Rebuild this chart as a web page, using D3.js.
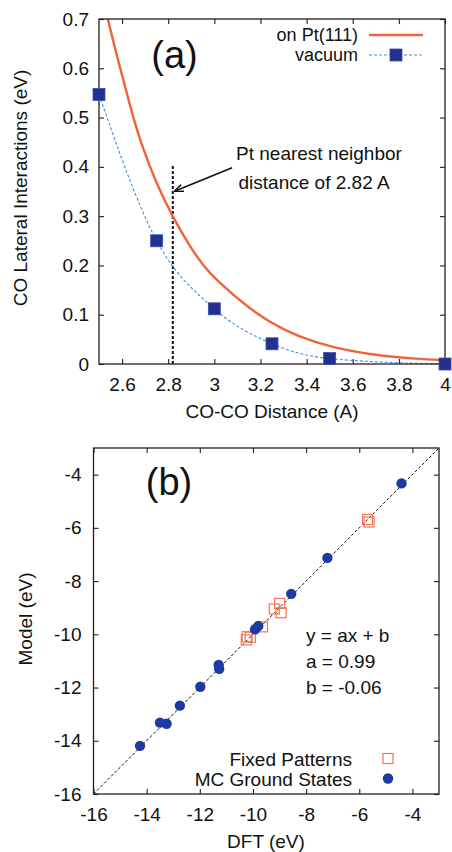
<!DOCTYPE html>
<html><head><meta charset="utf-8">
<script src="https://cdn.jsdelivr.net/npm/d3@7"></script>
<style>
html,body{margin:0;padding:0;background:#fff;}
svg text{font-family:"Liberation Sans",Arial,Helvetica,sans-serif;fill:#111;}
</style></head>
<body><svg id="c" width="452" height="852"></svg>
<script>
// ---------- Panel (a) data ----------
const distA = [2.5, 2.75, 3.0, 3.25, 3.5, 4.0];
const vacuumA = [0.547, 0.25, 0.112, 0.041, 0.011, 0.0];
const ptDist = [2.5, 2.533, 2.59, 2.634, 2.678, 2.75, 2.82, 2.894, 2.952, 3.0, 3.155, 3.3, 3.444, 3.588, 3.732, 3.877, 4.0];
const ptVal  = [0.78, 0.708, 0.603, 0.525, 0.452, 0.364, 0.298, 0.238, 0.2, 0.174, 0.11, 0.068, 0.042, 0.026, 0.016, 0.0105, 0.0075];
const xTicksA = [2.6, 2.8, 3, 3.2, 3.4, 3.6, 3.8, 4];
const yTicksA = [0, 0.1, 0.2, 0.3, 0.4, 0.5, 0.6, 0.7];
const ptNN = 2.82;
const legendA = ["on Pt(111)", "vacuum"];

// ---------- Panel (b) data ----------
const fixedDFT   = [-5.69, -5.63, -9.2, -9.0, -8.94, -9.64, -10.22, -10.25, -10.1];
const fixedModel = [-5.69, -5.78, -9.05, -8.84, -9.19, -9.72, -10.09, -10.21, -10.11];
const mcDFT   = [-4.41, -7.2, -8.56, -9.92, -9.8, -11.29, -11.27, -11.98, -12.75, -13.5, -13.25, -14.25];
const mcModel = [-4.33, -7.13, -8.48, -9.81, -9.69, -11.15, -11.3, -11.97, -12.68, -13.32, -13.36, -14.19];
const ticksB = [-16, -14, -12, -10, -8, -6, -4];
const fitLines = ["y = ax + b", "a = 0.99", "b = -0.06"];
const legendB = ["Fixed Patterns", "MC Ground States"];

const svg = d3.select("#c");
const FS = 19;
const frameCol = "#2a1c1c";
const orange = "#f0643c", lightBlue = "#3f8fe6", navy = "#22308e", dotBlue = "#1d3aa0", sqOrange = "#f27455";
const fmt = d => String(d);

svg.append("defs").append("marker").attr("id","arr").attr("viewBox","0 0 10 10")
  .attr("refX",9).attr("refY",5).attr("markerWidth",9).attr("markerHeight",9)
  .attr("markerUnits","userSpaceOnUse").attr("orient","auto")
  .append("path").attr("d","M0,1 L10,5 L0,9").attr("fill","none").attr("stroke","#111").attr("stroke-width",1.6);

function frame(g, x, y, xt, yt, padX, padY){
  const [x0,x1] = x.range(), [y0,y1] = y.range();
  const ax = g.append("g").attr("transform",`translate(0,${y0})`)
    .call(d3.axisBottom(x).tickValues(xt).tickFormat(fmt).tickSize(-5).tickPadding(padX));
  const ay = g.append("g").attr("transform",`translate(${x0},0)`)
    .call(d3.axisLeft(y).tickValues(yt).tickFormat(fmt).tickSize(-5).tickPadding(padY));
  const at = g.append("g").attr("transform",`translate(0,${y1})`)
    .call(d3.axisTop(x).tickValues(xt).tickFormat("").tickSize(-5));
  const ar = g.append("g").attr("transform",`translate(${x1},0)`)
    .call(d3.axisRight(y).tickValues(yt).tickFormat("").tickSize(-5));
  [ax,ay,at,ar].forEach(a=>{
    a.select(".domain").remove();
    a.selectAll("line").attr("stroke",frameCol).attr("stroke-width",1.1);
    a.selectAll("text").attr("font-size",FS).attr("fill","#111").style("font-family","Liberation Sans, Arial, sans-serif");
  });
  g.append("rect").attr("x",x0).attr("y",y1).attr("width",x1-x0).attr("height",y0-y1)
    .attr("fill","none").attr("stroke",frameCol).attr("stroke-width",1.3);
}

// ================= Panel (a) =================
const xA = d3.scaleLinear().domain([2.5,4]).range([99,445]);
const yA = d3.scaleLinear().domain([0,0.7]).range([364,19]);
const gA = svg.append("g");
gA.append("clipPath").attr("id","clipA").append("rect")
  .attr("x",99).attr("y",19).attr("width",346).attr("height",345);

// vertical Pt NN line
gA.append("line").attr("x1",xA(ptNN)).attr("x2",xA(ptNN)).attr("y1",yA(0)).attr("y2",yA(0.405))
  .attr("stroke","#111").attr("stroke-width",2).attr("stroke-dasharray","3,2");

// Pt(111) curve
gA.append("path").datum(ptDist.map((d,i)=>[d,ptVal[i]]))
  .attr("clip-path","url(#clipA)")
  .attr("d", d3.line().x(d=>xA(d[0])).y(d=>yA(d[1])).curve(d3.curveBasis))
  .attr("fill","none").attr("stroke",orange).attr("stroke-width",2.4);

// vacuum
gA.append("path").datum(distA.map((d,i)=>[d,vacuumA[i]]))
  .attr("d", d3.line().x(d=>xA(d[0])).y(d=>yA(d[1])).curve(d3.curveMonotoneX))
  .attr("fill","none").attr("stroke",lightBlue).attr("stroke-width",1.1).attr("stroke-dasharray","3,2");

frame(gA, xA, yA, xTicksA, yTicksA, 13.5, 10);

const sq = 12;
gA.selectAll("rect.vac").data(distA).enter().append("rect").attr("class","vac")
  .attr("x",(d)=>xA(d)-sq/2).attr("y",(d,i)=>yA(vacuumA[i])-sq/2)
  .attr("width",sq).attr("height",sq).attr("fill",navy).attr("stroke","#3a4fb0").attr("stroke-width",0.8);

// arrow annotation
gA.append("line").attr("x1",xA(3.077)).attr("y1",yA(0.398)).attr("x2",xA(2.83)).attr("y2",yA(0.351))
  .attr("stroke","#111").attr("stroke-width",1.6).attr("marker-end","url(#arr)");
gA.append("text").attr("x",xA(3.094)).attr("y",yA(0.414)).attr("font-size",FS).text("Pt nearest neighbor");
gA.append("text").attr("x",xA(3.105)).attr("y",yA(0.355)).attr("font-size",FS).text("distance of 2.82 A");

// panel label
gA.append("text").attr("x",174.5).attr("y",68).attr("text-anchor","middle").attr("font-size",38).text("(a)");

// legend (a)
gA.append("text").attr("x",358).attr("y",41).attr("text-anchor","end").attr("font-size",18).text(legendA[0]);
gA.append("text").attr("x",358).attr("y",61).attr("text-anchor","end").attr("font-size",18).text(legendA[1]);
gA.append("line").attr("x1",369).attr("x2",423).attr("y1",35).attr("y2",35).attr("stroke",orange).attr("stroke-width",2.4);
gA.append("line").attr("x1",369).attr("x2",423).attr("y1",55).attr("y2",55).attr("stroke",lightBlue).attr("stroke-width",1.1).attr("stroke-dasharray","3,2");
gA.append("rect").attr("x",396-sq/2).attr("y",55-sq/2).attr("width",sq).attr("height",sq).attr("fill",navy).attr("stroke","#3a4fb0").attr("stroke-width",0.8);

// axis titles
gA.append("text").attr("transform","translate(27,188) rotate(-90)").attr("text-anchor","middle").attr("font-size",FS).text("CO Lateral Interactions (eV)");
gA.append("text").attr("x",272).attr("y",418).attr("text-anchor","middle").attr("font-size",FS).text("CO-CO Distance (A)");

// ================= Panel (b) =================
const xB = d3.scaleLinear().domain([-16,-3]).range([93.5,439]);
const yB = d3.scaleLinear().domain([-16,-3]).range([794,448]);
const gB = svg.append("g");

gB.append("line").attr("x1",xB(-16)).attr("y1",yB(-16)).attr("x2",xB(-3)).attr("y2",yB(-3))
  .attr("stroke","#111").attr("stroke-width",1).attr("stroke-dasharray","3,2");

frame(gB, xB, yB, ticksB, ticksB, 14, 12);

const fs = 10;
gB.selectAll("rect.fx").data(fixedDFT).enter().append("rect").attr("class","fx")
  .attr("x",d=>xB(d)-fs/2).attr("y",(d,i)=>yB(fixedModel[i])-fs/2)
  .attr("width",fs).attr("height",fs).attr("fill","none").attr("stroke",sqOrange).attr("stroke-width",1.2);
gB.selectAll("circle.mc").data(mcDFT).enter().append("circle").attr("class","mc")
  .attr("cx",d=>xB(d)).attr("cy",(d,i)=>yB(mcModel[i])).attr("r",5.2).attr("fill",dotBlue);

gB.append("text").attr("x",169).attr("y",495).attr("text-anchor","middle").attr("font-size",38).text("(b)");

fitLines.forEach((t,i)=>{
  gB.append("text").attr("x",306).attr("y",642+i*26).attr("font-size",FS).text(t);
});

gB.append("text").attr("x",352).attr("y",766).attr("text-anchor","end").attr("font-size",FS).text(legendB[0]);
gB.append("text").attr("x",352).attr("y",786).attr("text-anchor","end").attr("font-size",FS).text(legendB[1]);
gB.append("rect").attr("x",388-fs/2).attr("y",758.5-fs/2).attr("width",fs).attr("height",fs).attr("fill","none").attr("stroke",sqOrange).attr("stroke-width",1.2);
gB.append("circle").attr("cx",388).attr("cy",778.5).attr("r",5.2).attr("fill",dotBlue);

gB.append("text").attr("transform","translate(32,619) rotate(-90)").attr("text-anchor","middle").attr("font-size",FS).text("Model (eV)");
gB.append("text").attr("x",266).attr("y",848).attr("text-anchor","middle").attr("font-size",FS).text("DFT (eV)");
</script></body></html>
